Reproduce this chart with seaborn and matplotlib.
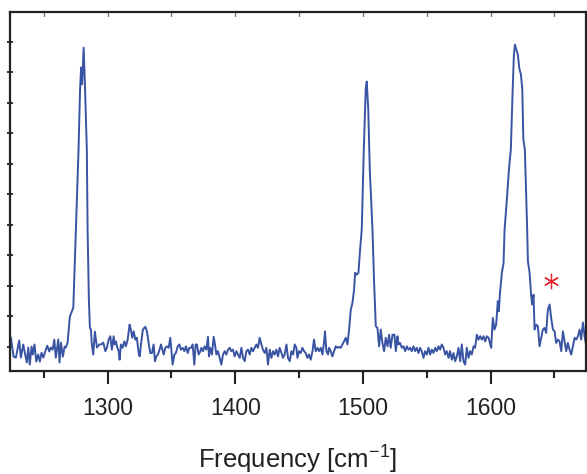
import numpy as np
import pandas as pd
import matplotlib
matplotlib.use("Agg")
import matplotlib.pyplot as plt
import seaborn as sns
from matplotlib.ticker import MultipleLocator, NullFormatter

# ---------------- data ----------------
freq_seg1 = [1224.2, 1226.3, 1228.1, 1230.7, 1232.0, 1233.9, 1235.1, 1236.7, 1237.8, 1239.0,
             1240.4, 1241.4, 1242.7, 1244.1, 1245.6, 1246.9, 1248.2, 1249.6, 1250.8, 1252.7,
             1254.3, 1255.5, 1256.9, 1258.2, 1259.4, 1261.3, 1262.3, 1263.4, 1264.9, 1266.3,
             1267.3, 1268.6, 1270.4, 1273.1, 1275.1, 1277.2, 1278.4, 1279.2, 1280.0, 1281.2,
             1282.2, 1283.7, 1284.3, 1285.3, 1286.1, 1286.9, 1287.6, 1288.7, 1290.0, 1291.6,
             1293.5, 1295.0, 1296.6]
int_seg1 = [3.0, -3.3, -3.6, 2.0, -3.6, 0.7, -2.0, -5.2, -0.3, -5.9,
            0.0, -2.6, 0.7, -4.9, -2.6, -4.9, -2.0, -3.6, -2.0, 0.3,
            -1.6, -0.3, -1.0, 2.3, -3.6, 2.3, -5.2, 1.3, -3.3, 0.0,
            -0.3, 1.3, 9.8, 12.8, 38.4, 64.6, 84.3, 91.5, 86.0, 98.0,
            86.0, 64.6, 38.4, 15.4, 6.2, 5.6, 0.7, -2.6, 4.9, -0.3,
            0.7, 0.7, 1.3]

freq_seg2 = [1298.2, 1299.4, 1300.8, 1302.1, 1303.3, 1304.7, 1305.5, 1306.5, 1307.3, 1308.6,
             1309.4, 1310.4, 1311.7, 1313.1, 1314.3, 1315.7, 1317.2, 1318.2, 1319.3, 1320.4,
             1321.7, 1322.9, 1324.3, 1325.1, 1326.1, 1327.6, 1329.5, 1330.8, 1332.1, 1333.4,
             1334.7, 1336.0, 1337.1, 1338.2, 1339.4, 1340.7, 1341.8, 1342.9, 1343.9, 1345.2,
             1346.5, 1347.8, 1349.1, 1350.2, 1350.9, 1352.3, 1353.5, 1354.9, 1356.2, 1357.4,
             1358.8, 1360.1, 1361.4, 1362.7, 1364.0, 1365.3, 1366.6, 1367.9, 1369.0, 1370.0,
             1371.3, 1372.7]
int_seg2 = [-1.5, -0.4, 2.3, 3.4, -1.0, 3.4, 0.7, 1.7, 0.1, -1.5,
            -4.3, 0.7, -0.4, 1.7, 0.1, 2.3, 7.2, 5.6, 2.9, 5.0,
            2.3, 2.9, -2.1, -3.2, 0.7, 5.6, 6.5, 5.0, 1.2, -2.1,
            -2.1, 0.7, -4.8, -3.2, -2.6, -1.0, 0.7, -1.0, -2.6, -0.4,
            0.1, -0.4, 2.9, -2.6, -5.9, -2.6, -2.1, 0.1, 0.7, -1.0,
            -0.4, -1.5, 0.1, -2.1, -0.4, -0.4, 0.7, -5.9, 0.7, 0.7,
            -2.6, -1.5]

freq_seg3 = [1373.4, 1374.7, 1376.0, 1377.4, 1378.6, 1379.4, 1380.5, 1381.7, 1383.1, 1384.1,
             1385.2, 1386.4, 1387.8, 1389.1, 1390.4, 1391.7, 1393.0, 1394.3, 1395.6, 1396.9,
             1398.2, 1399.5, 1400.9, 1402.1, 1403.5, 1404.8, 1406.1, 1407.4, 1408.7, 1410.0,
             1411.3, 1412.6, 1413.9, 1415.2, 1416.5, 1417.8, 1419.1, 1420.5, 1421.7, 1423.1,
             1424.4, 1425.6, 1427.0, 1428.3, 1429.6, 1430.9, 1432.2, 1433.5, 1434.8, 1436.2,
             1437.4, 1438.7, 1440.1, 1441.3, 1442.7, 1444.0, 1445.3, 1446.6, 1447.9]
int_seg3 = [-0.4, -1.5, 0.1, -1.0, 3.2, -3.2, -0.4, -2.6, 3.2, 0.7,
            -2.6, -1.5, -3.7, -5.9, -2.6, -1.5, -2.6, -1.0, -0.4, -1.5,
            -1.0, -3.2, -1.5, -2.6, -3.7, -0.4, -3.7, -4.8, -1.5, -1.0,
            -2.6, -0.4, -1.5, -0.4, 0.7, -0.4, 2.9, 0.7, -1.0, -2.1,
            -0.4, -5.9, -1.0, -3.7, -1.5, -2.6, -1.0, -3.2, -0.4, -2.1,
            -3.7, -2.6, 0.7, -3.7, -4.8, -1.5, -2.6, 0.7, -0.4]

freq_seg4 = [1448.7, 1450.0, 1451.3, 1452.6, 1453.9, 1455.2, 1456.5, 1457.8, 1459.1, 1460.5,
             1461.7, 1463.0, 1464.4, 1465.6, 1467.0, 1468.3, 1469.6, 1470.3, 1471.4, 1472.7,
             1473.5, 1474.8, 1476.1, 1477.4, 1478.7, 1480.1, 1481.3, 1482.6, 1484.0, 1485.2,
             1486.6, 1487.9, 1489.2, 1490.5, 1491.8, 1493.1, 1493.9, 1495.2, 1496.5, 1497.8,
             1499.1, 1500.7, 1502.2, 1503.0, 1504.2, 1505.4, 1507.5, 1508.7, 1510.1, 1511.4,
             1512.7, 1514.0, 1515.3, 1516.6, 1517.9, 1519.3, 1520.5, 1521.8, 1523.2]
int_seg4 = [-3.7, -1.5, -2.1, -0.4, -1.5, -2.1, -3.7, -2.6, -4.3, -1.5,
            2.3, -1.5, -0.4, -1.5, -0.4, -2.6, 1.7, 5.0, -1.5, -2.6,
            -0.4, -1.5, -3.2, -1.5, 0.1, -0.4, -0.1, -0.4, 0.7, 1.7,
            2.9, 0.7, 5.6, 12.1, 14.3, 18.7, 24.2, 23.6, 24.2, 31.8,
            38.4, 64.6, 84.3, 86.9, 77.7, 58.0, 38.4, 22.0, 6.7, 6.1,
            0.1, 5.6, 1.2, -1.5, 2.9, 0.1, 3.9, -0.4, 3.9]

freq_seg5 = [1524.7, 1525.8, 1527.1, 1527.9, 1529.1, 1530.5, 1531.8, 1533.1, 1534.4, 1535.7,
             1537.0, 1538.3, 1539.6, 1540.9, 1542.2, 1543.6, 1544.8, 1546.1, 1547.5, 1548.7,
             1550.1, 1551.4, 1552.7, 1554.0, 1555.3, 1556.6, 1557.9, 1559.2, 1560.5, 1561.8,
             1563.2, 1564.4, 1565.7, 1567.1, 1568.3, 1569.7, 1571.0, 1572.3, 1573.6, 1574.9,
             1576.2, 1577.5, 1578.8, 1580.1, 1581.4, 1582.8, 1584.0, 1585.3, 1586.7, 1587.9,
             1589.3, 1590.6, 1591.9, 1593.2, 1594.5, 1595.8, 1597.1, 1598.4]
int_seg5 = [3.9, -1.5, 3.4, 0.7, 1.2, -0.4, 0.1, -1.5, 0.1, -1.0,
            -0.4, -1.5, 0.1, -1.5, -0.4, -2.1, -0.4, -1.5, -3.7, -1.5,
            -2.6, -0.4, -2.6, -1.0, -2.1, -0.4, -1.5, 0.1, -1.0, 0.7,
            -0.4, -2.6, -1.5, -3.7, -1.5, -4.3, -2.1, -4.8, -3.2, -0.4,
            -4.8, 0.7, -4.8, -5.9, -0.4, -3.7, -1.5, -2.6, 0.1, -0.4,
            3.9, 2.3, 3.4, 2.3, 3.4, 1.7, 3.4, 2.9]

freq_seg6 = [1599.2, 1600.5, 1601.8, 1603.1, 1604.4, 1605.7, 1606.5, 1607.5, 1608.9, 1610.2,
             1611.0, 1612.8, 1614.4, 1615.9, 1617.1, 1618.3, 1619.1, 1620.2, 1621.4, 1622.6,
             1623.8, 1624.9, 1625.7, 1626.9, 1628.7, 1629.3, 1630.6, 1631.8, 1632.6, 1633.7,
             1634.5, 1635.8, 1637.1, 1638.4, 1639.7, 1641.0, 1642.3, 1643.6, 1644.9, 1646.3,
             1647.5, 1648.9, 1650.2, 1651.4, 1652.8, 1654.1, 1655.4, 1656.7, 1658.0, 1659.3,
             1660.6, 1661.9, 1663.2, 1664.5, 1665.9, 1667.1, 1668.5, 1669.8, 1671.0, 1672.4,
             1673.7, 1674.7]
int_seg6 = [1.7, -0.4, 9.4, 5.6, 7.2, 14.9, 11.6, 18.1, 24.2, 27.4,
            38.4, 48.2, 58.0, 64.6, 81.0, 95.7, 99.0, 97.4, 95.7, 91.1,
            89.2, 84.3, 67.9, 64.6, 38.4, 27.9, 24.2, 17.0, 13.8, 17.0,
            5.6, 7.2, 6.7, 0.1, 2.9, 5.6, 6.1, 4.5, 12.1, 13.8,
            9.4, 5.6, 5.0, 1.2, 2.3, 1.7, -1.5, 5.0, 1.7, -1.5,
            1.2, -1.0, -2.6, 0.1, 2.9, 2.3, 3.4, 5.6, 2.3, 7.9,
            3.4, 1.0]

star_freq = 1647.0
star_int = 21.6

x_major_ticks = [1300, 1400, 1500, 1600]
x_label = "Frequency [cm$^{\\mathregular{-1}}$]"

# ---------------- build table ----------------
freq = freq_seg1 + freq_seg2 + freq_seg3 + freq_seg4 + freq_seg5 + freq_seg6
inten = int_seg1 + int_seg2 + int_seg3 + int_seg4 + int_seg5 + int_seg6
df = pd.DataFrame({"freq": freq, "intensity": inten})

# ---------------- plot ----------------
sns.set_theme(style="ticks")
plt.rcParams['font.family'] = ['Liberation Sans', 'DejaVu Sans']
plt.rcParams['mathtext.fontset'] = 'custom'
plt.rcParams['mathtext.rm'] = 'Liberation Sans'

fig = plt.figure(figsize=(5.87, 4.74), dpi=100)
ax = fig.add_axes([10 / 587, 1 - 371 / 474, 576 / 587, 359 / 474])

sns.lineplot(data=df, x="freq", y="intensity", ax=ax, color="#3a54a4",
             linewidth=1.4, estimator=None, sort=True)

ax.plot([star_freq], [star_int], linestyle="none", marker=(6, 2, 0),
        markersize=11, markeredgewidth=0.9, color="#e8202a")

ax.set_xlim(1223.5, 1674.8)
ax.set_ylim(-8.0, 109.7)

ax.xaxis.set_major_locator(MultipleLocator(100))
ax.xaxis.set_minor_locator(MultipleLocator(50))
ax.yaxis.set_major_locator(MultipleLocator(10))
ax.yaxis.set_major_formatter(NullFormatter())
ax.set_xticks(x_major_ticks)
ax.set_xticklabels([str(t) for t in x_major_ticks])

ax.tick_params(axis="x", which="major", direction="out", length=9.5, width=1.5,
               color="#222222", labelsize=16.5, labelcolor="#222222", pad=9,
               top=False)
ax.tick_params(axis="x", which="minor", direction="out", length=5, width=1.5,
               color="#222222", top=False)
ax.tick_params(axis="y", which="major", direction="inout", length=4, width=1.3,
               color="#222222", left=True, right=False)

# small inward ticks along the top spine
for xv in np.arange(1250, 1675, 50):
    ax.plot([xv, xv], [109.7, 108.5], color="#777777", lw=1.0, clip_on=False)

for side in ["left", "right", "top", "bottom"]:
    ax.spines[side].set_visible(True)
    ax.spines[side].set_color("#222222")
    ax.spines[side].set_linewidth(1.6)

ax.set_xlabel(x_label, fontsize=18.5, color="#222222", labelpad=16)
ax.set_ylabel("")

fig.savefig("out.png", dpi=100)
